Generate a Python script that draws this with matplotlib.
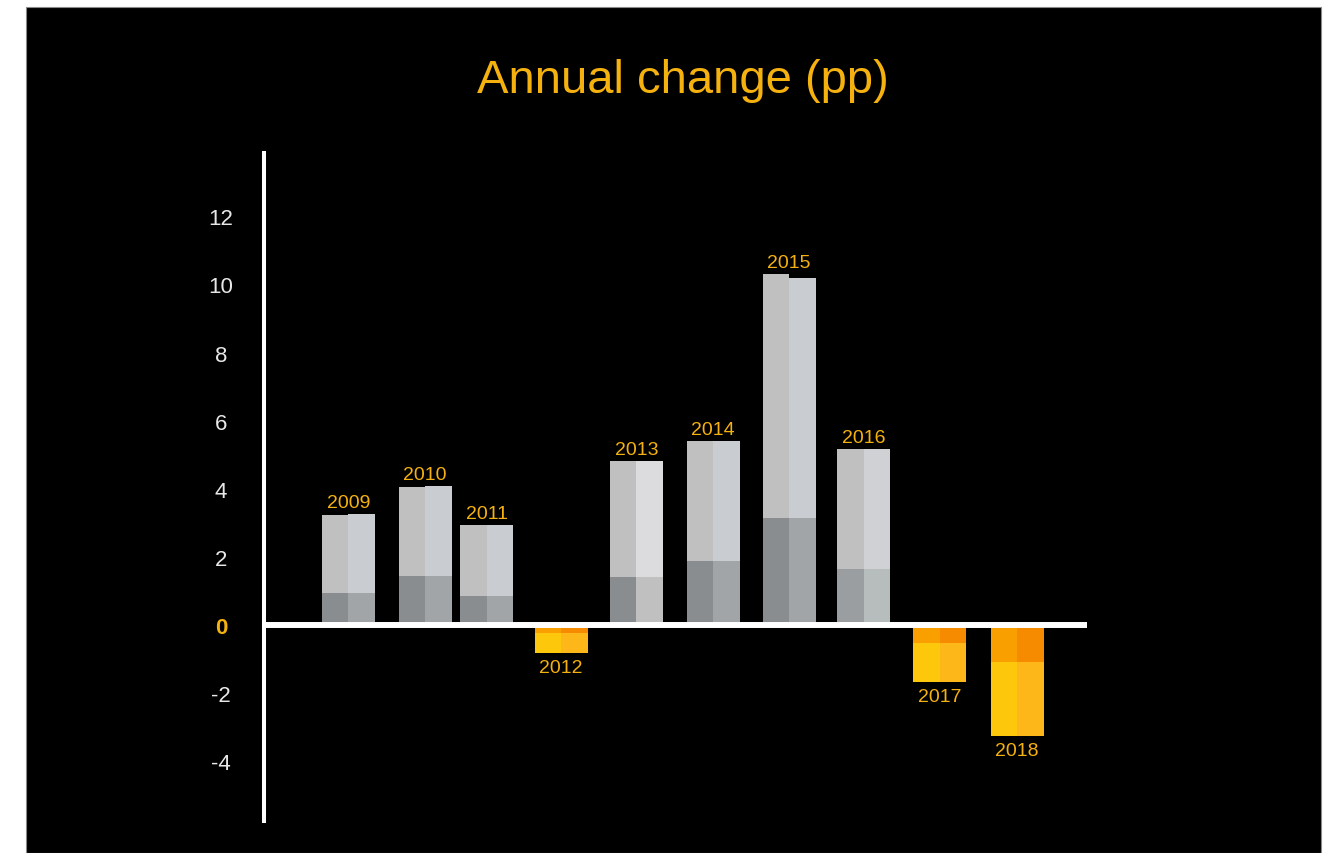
import matplotlib
matplotlib.use("Agg")
from matplotlib import pyplot as plt
from matplotlib.patches import Rectangle

# values (percentage points)
years = ['2009', '2010', '2011', '2012', '2013', '2014', '2015', '2016', '2017', '2018']
inner_left = [0.94, 1.44, 0.85, -0.23, 1.41, 1.88, 3.14, 1.64, -0.53, -1.09]
inner_right = [0.94, 1.44, 0.85, -0.23, 1.41, 1.88, 3.14, 1.64, -0.53, -1.09]
total_left = [3.23, 4.05, 2.94, -0.82, 4.82, 5.40, 10.31, 5.17, -1.67, -3.26]
total_right = [3.26, 4.08, 2.94, -0.82, 4.82, 5.40, 10.19, 5.17, -1.67, -3.26]
yticks = [-4, -2, 0, 2, 4, 6, 8, 10, 12]

# layout / styles
xpos = [1.11, 2.12, 2.93, 3.91, 4.90, 5.91, 6.91, 7.89, 8.89, 9.91]
half = 0.35
gold = '#f5b20f'
grey_cols = {'il': '#8a8d90', 'ir': '#a2a5a8', 'ol': '#bfc0bf', 'or': '#c9ccd0'}
special = {
    '2013': {'il': '#8a8d90', 'ir': '#bfc0bf', 'ol': '#bfc0bf', 'or': '#dcdcde'},
    '2016': {'il': '#9a9ea1', 'ir': '#b7bcbc', 'ol': '#bfc0bf', 'or': '#d0d1d4'},
}
orange_cols = {'il': '#f99f00', 'ir': '#f68b00', 'ol': '#fdc70c', 'or': '#fdb718'}

plt.rcParams['font.family'] = ['Liberation Sans', 'DejaVu Sans']

W, H = 1332, 854
fig = plt.figure(figsize=(W / 100, H / 100), dpi=100, facecolor='white')
fig.add_artist(Rectangle((26 / W, 0), (1321 - 26) / W, (H - 8) / H, transform=fig.transFigure,
                         facecolor='black', edgecolor='#8a8a8a', lw=0.8, zorder=-10))

ax = fig.add_axes([264 / W, (H - 822) / H, (1087 - 264) / W, (822 - 154) / H])
ax.set_facecolor('none')
ax.set_xlim(0, (1087 - 264) / 76)
ax.set_ylim(-(822 - 626) / 34.06, (626 - 154) / 34.06)

for i, yr in enumerate(years):
    neg = total_left[i] < 0
    c = orange_cols if neg else special.get(yr, grey_cols)
    xl = xpos[i] - half / 2
    xr = xpos[i] + half / 2
    ax.bar(xl, inner_left[i], half, color=c['il'], zorder=2)
    ax.bar(xl, total_left[i] - inner_left[i], half, bottom=inner_left[i], color=c['ol'], zorder=2)
    ax.bar(xr, inner_right[i], half, color=c['ir'], zorder=2)
    ax.bar(xr, total_right[i] - inner_right[i], half, bottom=inner_right[i], color=c['or'], zorder=2)

    if neg:
        ax.annotate(yr, (xpos[i], min(total_left[i], total_right[i])), xytext=(0, -4.5),
                    textcoords='offset points', ha='center', va='top', fontsize=14, color=gold)
    else:
        ax.annotate(yr, (xpos[i], max(total_left[i], total_right[i])), xytext=(0, 5),
                    textcoords='offset points', ha='center', va='baseline', fontsize=14, color=gold)

ax.axhline(0, color='white', lw=4.3, zorder=5)

for s in ['top', 'right', 'bottom']:
    ax.spines[s].set_visible(False)
ax.spines['left'].set_color('white')
ax.spines['left'].set_linewidth(2.9)

ax.set_xticks([])
ax.set_yticks(yticks)
ax.set_yticklabels([str(t) for t in yticks])
ax.tick_params(axis='y', length=0, pad=31, labelsize=16, labelcolor='#e8e8e8')
for lab in ax.get_yticklabels():
    lab.set_horizontalalignment('center')
    if lab.get_text() == '0':
        lab.set_color(gold)
        lab.set_fontweight('bold')

fig.text(683 / W, 1 - 93 / H, 'Annual change (pp)', ha='center', va='baseline',
         fontsize=34, color=gold)

fig.savefig('out.png', dpi=100, facecolor='white')
